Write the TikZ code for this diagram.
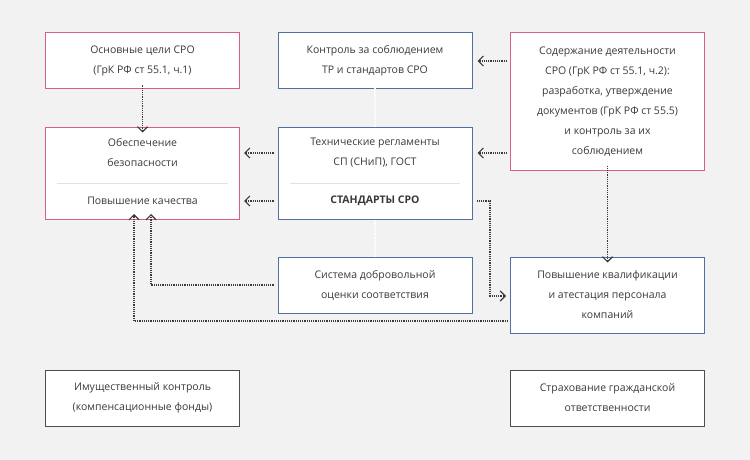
\documentclass[tikz,border=0pt]{standalone}
\usepackage{fontspec}
\setmainfont{Open Sans}
\usetikzlibrary{arrows.meta}
\definecolor{bg}{HTML}{F2F2F2}
\definecolor{pinkline}{HTML}{D9607F}
\definecolor{blueline}{HTML}{4F70A3}
\definecolor{txt}{HTML}{3A3A3A}
\definecolor{sep}{HTML}{E2E2E2}
\tikzset{
  box/.style={draw, fill=white, line width=1pt, text=txt, align=center,
    minimum width=194pt, inner sep=0pt, font=\fontsize{10.5}{20}\selectfont},
  pinkbox/.style={box, draw=pinkline},
  bluebox/.style={box, draw=blueline},
  greybox/.style={box, draw=txt!90},
  link/.style={-{Straight Barb[length=5pt,width=10pt,line width=1.2pt]}, densely dotted, line width=1.2pt, draw=txt},
  faint/.style={link, draw=white}
}
\begin{document}
\begin{tikzpicture}[x=1pt,y=-1pt]
    \fill[bg] (0,0) rectangle (750,460);
    \node[pinkbox, minimum height=56pt] (goals) at (142.5,61) {Основные цели СРО\\(ГрК РФ ст 55.1, ч.1)};
    \node[bluebox, minimum height=56pt] (control) at (375,61) {Контроль за соблюдением\\ТР и стандартов СРО};
    \node[pinkbox, minimum height=137pt] (content) at (607.5,101.5) {Содержание деятельности\\СРО (ГрК РФ ст 55.1, ч.2):\\разработка, утверждение\\документов (ГрК РФ ст 55.5)\\и контроль за их\\соблюдением};
    \node[pinkbox, minimum height=92pt] (safety) at (142.5,173) {};
    \node[txt, align=center, font=\fontsize{10.5}{20}\selectfont] (safetytop) at (142.5,153) {Обеспечение\\безопасности};
    \node[txt, font=\fontsize{10.5}{20}\selectfont] (quality) at (142.5,201) {Повышение качества};
    \draw[sep] (57,183) -- (228,183);
    \node[bluebox, minimum height=92pt] (tech) at (375,173) {};
    \node[txt, align=center, font=\fontsize{10.5}{20}\selectfont] (techtop) at (375,153) {Технические регламенты\\СП (СНиП), ГОСТ};
    \node[txt, font=\fontsize{10.5}{20}\selectfont\bfseries] (standards) at (375,201) {СТАНДАРТЫ СРО};
    \draw[sep] (290,183) -- (460,183);
    \node[bluebox, minimum height=56pt] (volunt) at (375,285) {Система добровольной\\оценки соответствия};
    \node[bluebox, minimum height=76pt] (qualif) at (607.5,295) {Повышение квалификации\\и атестация персонала\\компаний};
    \node[greybox, minimum height=56pt] (property) at (142.5,398) {Имущественный контроль\\(компенсационные фонды)};
    \node[greybox, minimum height=56pt] (insur) at (607.5,398) {Страхование гражданской\\ответственности};
    % connectors
    \draw[link] ([yshift=4]goals.south) -- ([yshift=-6]safety.north);
    \draw[link] ([xshift=-3]content.west |- control) -- ([xshift=5]control.east);
    \draw[link] ([xshift=-3]content.west |- techtop) -- ([xshift=5]tech.east |- techtop);
    \draw[link] ([xshift=-4]tech.west |- techtop) -- ([xshift=4]safety.east |- techtop);
    \draw[link] ([xshift=-4]tech.west |- standards) -- ([xshift=4]safety.east |- standards);
    \draw[link] ([yshift=5]content.south) -- ([yshift=-6]qualif.north);
    \draw[link] ([xshift=4]tech.east |- standards) -| (490,296) -- ([xshift=-4]qualif.west |- 0,296);
    \draw[link] ([xshift=-4]volunt.west) -| ([yshift=5]151,219);
    \draw[link] ([xshift=-2]qualif.west |- 0,321) -| ([yshift=5]134,219);
    \draw[faint] ([yshift=6]control.south) -- ([yshift=-10]tech.north);
    \draw[faint] ([yshift=6]tech.south) -- ([yshift=-10]volunt.north);
\end{tikzpicture}
\end{document}
